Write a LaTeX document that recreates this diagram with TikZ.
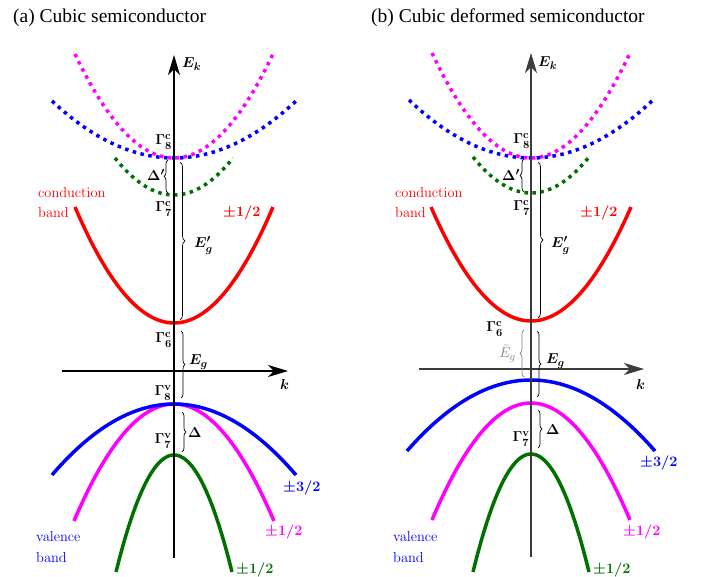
\documentclass[tikz,border=0pt]{standalone}
\usepackage{amsmath}
\usepackage[no-math]{fontspec}
\newfontfamily\titlefont{Liberation Serif}
\usetikzlibrary{arrows.meta,decorations.pathreplacing}
\definecolor{dgreen}{RGB}{0,112,0}
\definecolor{mag}{RGB}{255,0,255}
\definecolor{axgray}{RGB}{60,60,60}
\newcommand\parab[5]{\draw[#5] plot[domain=-#3:#3,samples=61,smooth] ({#1+\x},{#2-(#4)*(\x/#3)*(\x/#3)});}
\newcommand\cmbold{\fontencoding{OT1}\fontfamily{lmr}\fontseries{bx}\fontshape{n}\fontsize{13.4}{14}\selectfont}
\tikzset{
  band/.style={line width=3.5pt},
  dotband/.style={line width=3.5pt, dash pattern=on 3.5pt off 4.5pt},
  axis/.style={line width=1.1pt, -{Stealth[length=20pt,width=12pt,inset=6pt]}},
  brc/.style={decorate, decoration={brace,amplitude=#1}, line width=0.7pt},
  brc/.default=4pt,
  lbl/.style={font=\fontsize{15}{15}\selectfont, inner sep=0pt},
  sm/.style={font=\cmbold, inner sep=0pt},
  pm/.style={font=\fontsize{14}{14}\selectfont\boldmath, inner sep=0pt},
  ttl/.style={font=\titlefont\fontsize{19.5}{20}\selectfont, inner sep=0pt, anchor=base west}
}
\begin{document}
\begin{tikzpicture}[x=1pt,y=-1pt]
\useasboundingbox (0,0) rectangle (705,577);
% ---------- titles
\node[ttl] (ta) at (13,23) {(a) Cubic semiconductor};
\node[ttl] (tb) at (371,23) {(b) Cubic deformed semiconductor};
% ================= panel (a)
\coordinate (aT) at (174,55); \coordinate (aB) at (174,558);
\coordinate (aL) at (62,371); \coordinate (aR) at (288,371);
\parab{174}{158}{122}{57}{dotband,blue}
\parab{174}{158}{99}{104}{dotband,mag}
\parab{174}{195}{59}{37}{dotband,dgreen}
\parab{174}{323}{99}{116}{band,red}
\parab{174}{404}{100}{-117}{band,mag}
\parab{174}{404}{122}{-71}{band,blue}
\parab{174}{455}{58}{-117}{band,dgreen}
\draw[axis] (aB) -- (aT);
\draw[axis] (aL) -- (aR);
\node[lbl,anchor=base west] (aEk) at (182,68) {$\boldsymbol{E_k}$};
\node[lbl,anchor=base west] (ak) at (280,390) {$\boldsymbol{k}$};
\node[lbl,anchor=base east] (aG8c) at (172,145) {$\mathbf{\Gamma^{c}_{8}}$};
\node[lbl,anchor=base east] (aG7c) at (172,212) {$\mathbf{\Gamma^{c}_{7}}$};
\node[lbl,anchor=base east] (aG6c) at (172,343) {$\mathbf{\Gamma^{c}_{6}}$};
\node[lbl,anchor=base east] (aG8v) at (172,396) {$\mathbf{\Gamma^{v}_{8}}$};
\node[lbl,anchor=base east] (aG7v) at (172,444) {$\mathbf{\Gamma^{v}_{7}}$};
\node[lbl,anchor=base east] (aDp) at (165,181) {$\boldsymbol{\Delta'}$};
\node[lbl,anchor=base west] (aEgp) at (194,248) {$\boldsymbol{E'_g}$};
\node[lbl,anchor=base west] (aEg) at (189,365) {$\boldsymbol{E_g}$};
\node[lbl,anchor=base west] (aD) at (188,438) {$\boldsymbol{\Delta}$};
\draw[brc] (168,193) -- (168,160);
\draw[brc=5pt] (180,162) -- (180,320);
\draw[brc] (181,331) -- (181,398);
\draw[brc] (182,412) -- (182,452);
\node[sm,red,anchor=base west] (acond) at (38,198) {conduction};
\node[sm,red,anchor=base west] (aband1) at (38,218) {band};
\node[sm,blue,anchor=base west] (aval) at (36,542) {valence};
\node[sm,blue,anchor=base west] (aband2) at (36,562) {band};
\node[pm,red,anchor=base west] (apr) at (223,217) {$\pm1/2$};
\node[pm,blue,anchor=base west] (apb) at (283,492) {$\pm3/2$};
\node[pm,mag,anchor=base west] (apm) at (265,536) {$\pm1/2$};
\node[pm,dgreen,anchor=base west] (apg) at (236,573) {$\pm1/2$};
% ================= panel (b)
\coordinate (bT) at (531,53); \coordinate (bB) at (531,557);
\coordinate (bL) at (419,369); \coordinate (bR) at (644,369);
\parab{531}{158}{122}{58}{dotband,blue}
\parab{531}{158}{99}{105}{dotband,mag}
\parab{531}{193}{58}{36}{dotband,dgreen}
\parab{531}{321}{100}{114}{band,red}
\parab{531}{403}{99}{-117}{band,mag}
\parab{531}{380}{124}{-71}{band,blue}
\parab{531}{454}{58}{-118}{band,dgreen}
\draw[axis,axgray] (bB) -- (bT);
\draw[axis,axgray] (bL) -- (bR);
\node[lbl,anchor=base west] (bEk) at (538,67) {$\boldsymbol{E_k}$};
\node[lbl,anchor=base west] (bk) at (636,390) {$\boldsymbol{k}$};
\node[lbl,anchor=base east] (bG8c) at (530,144) {$\mathbf{\Gamma^{c}_{8}}$};
\node[lbl,anchor=base east] (bG7c) at (530,211) {$\mathbf{\Gamma^{c}_{7}}$};
\node[lbl,anchor=base east] (bG6c) at (503,332) {$\mathbf{\Gamma^{c}_{6}}$};
\node[lbl,anchor=base east] (bG7v) at (530,442) {$\mathbf{\Gamma^{v}_{7}}$};
\node[lbl,anchor=base east] (bDp) at (520,181) {$\boldsymbol{\Delta'}$};
\node[lbl,anchor=base west] (bEgp) at (551,248) {$\boldsymbol{E'_g}$};
\node[lbl,anchor=base west] (bEg) at (546,364) {$\boldsymbol{E_g}$};
\node[lbl,anchor=base west] (bD) at (546,435) {$\boldsymbol{\Delta}$};
\node[lbl,anchor=base east,gray] (bEt) at (516,358) {$\tilde{E}_g$};
\draw[brc] (524,192) -- (524,159);
\draw[brc=5pt] (538,162) -- (538,318);
\draw[brc,gray] (524,377) -- (524,330);
\draw[brc] (537,331) -- (537,397);
\draw[brc] (538,410) -- (538,448);
\node[sm,red,anchor=base west] (bcond) at (395,198) {conduction};
\node[sm,red,anchor=base west] (bband1) at (395,218) {band};
\node[sm,blue,anchor=base west] (bval) at (393,542) {valence};
\node[sm,blue,anchor=base west] (bband2) at (393,562) {band};
\node[pm,red,anchor=base west] (bpr) at (580,217) {$\pm1/2$};
\node[pm,blue,anchor=base west] (bpb) at (640,467) {$\pm3/2$};
\node[pm,mag,anchor=base west] (bpm) at (623,536) {$\pm1/2$};
\node[pm,dgreen,anchor=base west] (bpg) at (593,573) {$\pm1/2$};
\end{tikzpicture}
\end{document}
